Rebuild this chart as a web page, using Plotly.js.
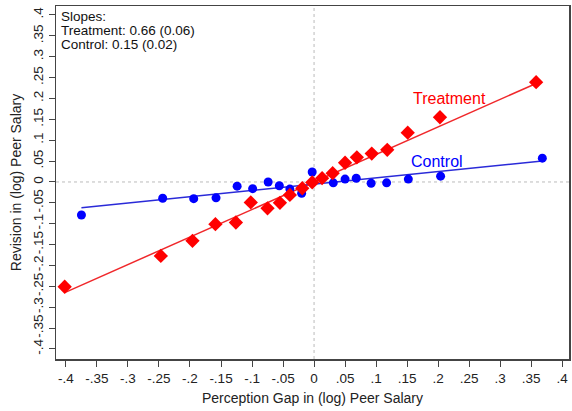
<!DOCTYPE html>
<html>
<head>
<meta charset="utf-8">
<script src="https://cdn.plot.ly/plotly-3.0.1.min.js"></script>
<style>html,body{margin:0;padding:0;background:#fff;}#chart{width:572px;height:411px;}</style>
</head>
<body>
<div id="chart"></div>
<script>
// Treatment (red diamonds)
const treatX = [-0.402, -0.247, -0.196, -0.159, -0.126, -0.102, -0.075, -0.055, -0.039, -0.019, -0.003, 0.013, 0.030, 0.050, 0.069, 0.093, 0.118, 0.151, 0.203, 0.358];
const treatY = [-0.251, -0.177, -0.141, -0.101, -0.097, -0.049, -0.063, -0.050, -0.031, -0.015, -0.001, 0.009, 0.021, 0.046, 0.059, 0.068, 0.077, 0.118, 0.155, 0.239];
// Control (blue circles)
const ctrlX = [-0.375, -0.244, -0.194, -0.158, -0.124, -0.099, -0.074, -0.056, -0.039, -0.020, -0.003, 0.031, 0.050, 0.068, 0.092, 0.117, 0.152, 0.204, 0.368];
const ctrlY = [-0.079, -0.039, -0.040, -0.038, -0.010, -0.016, 0.000, -0.009, -0.017, -0.027, 0.024, -0.002, 0.007, 0.009, -0.003, -0.002, 0.007, 0.014, 0.057];
// Fitted lines (endpoints)
const treatFitX = [-0.402, 0.358];
const treatFitY = [-0.265, 0.236];
const ctrlFitX = [-0.375, 0.368];
const ctrlFitY = [-0.0615, 0.050];
// Ticks
const tickVals = [-0.4, -0.35, -0.3, -0.25, -0.2, -0.15, -0.1, -0.05, 0, 0.05, 0.1, 0.15, 0.2, 0.25, 0.3, 0.35, 0.4];
const tickText = ["-.4", "-.35", "-.3", "-.25", "-.2", "-.15", "-.1", "-.05", "0", ".05", ".1", ".15", ".2", ".25", ".3", ".35", ".4"];
const slopeLines = ["Slopes:", "Treatment: 0.66 (0.06)", "Control: 0.15 (0.02)"];

const RED = '#ff0000', BLUE = '#0000ff';
const FONT = 'Liberation Sans, Arial, sans-serif';

const traces = [
  {x: treatFitX, y: treatFitY, mode: 'lines', line: {color: '#f0282b', width: 1.5}, hoverinfo: 'skip'},
  {x: ctrlFitX, y: ctrlFitY, mode: 'lines', line: {color: '#2a2ad8', width: 1.5}, hoverinfo: 'skip'},
  {x: ctrlX, y: ctrlY, mode: 'markers', marker: {symbol: 'circle', size: 9, color: BLUE}},
  {x: treatX, y: treatY, mode: 'markers', marker: {symbol: 'diamond', size: 11, color: RED}}
];

const ann = slopeLines.map((t, i) => ({
  xref: 'paper', yref: 'paper', x: 0.006, y: 1 - (1 + i * 14) / 353,
  xanchor: 'left', yanchor: 'top', text: t, showarrow: false,
  font: {family: FONT, size: 13.5, color: '#111'}
}));
ann.push({xref: 'x', yref: 'y', x: 0.218, y: 0.201, text: 'Treatment', showarrow: false,
  font: {family: FONT, size: 16, color: RED}});
ann.push({xref: 'x', yref: 'y', x: 0.198, y: 0.048, text: 'Control', showarrow: false,
  font: {family: FONT, size: 16, color: BLUE}});

const layout = {
  width: 572, height: 411,
  margin: {l: 56, r: 3, t: 6, b: 52},
  paper_bgcolor: '#fff', plot_bgcolor: '#fff',
  showlegend: false,
  font: {family: FONT, size: 13, color: '#222'},
  xaxis: {
    range: [-0.416, 0.411], tickvals: tickVals, ticktext: tickText,
    showgrid: false, zeroline: false, showline: true, mirror: true,
    linecolor: '#444', linewidth: 1.5, ticks: 'outside', ticklen: 6, tickcolor: '#444',
    tickfont: {family: FONT, size: 13.5, color: '#222'},
    title: {text: 'Perception Gap in (log) Peer Salary', font: {family: FONT, size: 14, color: '#222'}, standoff: 8}
  },
  yaxis: {
    range: [-0.424, 0.4215], tickvals: tickVals, ticktext: tickText, tickangle: -90,
    showgrid: false, zeroline: false, showline: true, mirror: true,
    linecolor: '#444', linewidth: 1.5, ticks: 'outside', ticklen: 6, tickcolor: '#444',
    tickfont: {family: FONT, size: 13.5, color: '#222'},
    title: {text: 'Revision in (log) Peer Salary', font: {family: FONT, size: 14, color: '#222'}, standoff: 6}
  },
  shapes: [
    {type: 'line', xref: 'x', yref: 'paper', x0: 0, x1: 0, y0: 0, y1: 1, line: {color: '#bbb', width: 1, dash: 'dot'}, layer: 'below'},
    {type: 'line', xref: 'paper', yref: 'y', x0: 0, x1: 1, y0: 0, y1: 0, line: {color: '#bbb', width: 1, dash: 'dot'}, layer: 'below'}
  ],
  annotations: ann
};

Plotly.newPlot('chart', traces, layout, {displayModeBar: false, staticPlot: true});
</script>
</body>
</html>
